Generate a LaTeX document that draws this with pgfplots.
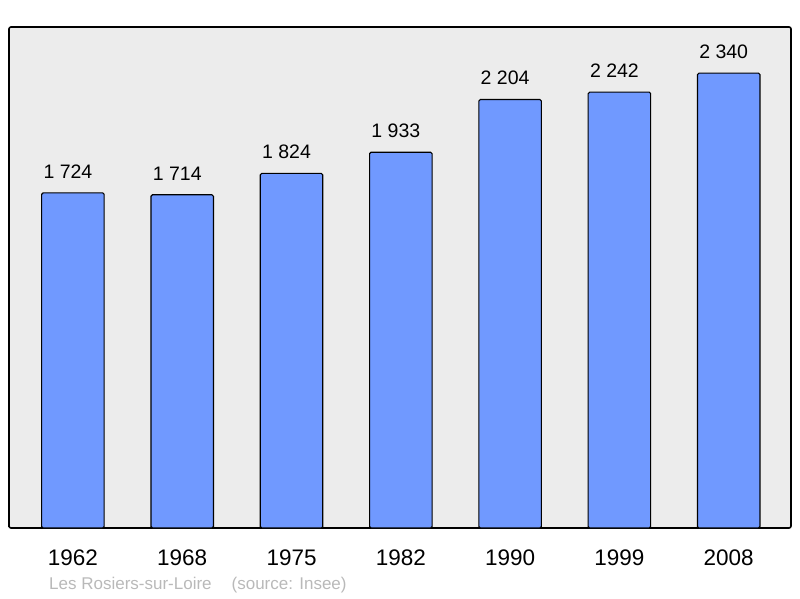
\documentclass[border=0pt]{standalone}
\usepackage{pgfplots}
\pgfplotsset{compat=1.18}
\usepackage{fontspec}
\setmainfont{Liberation Sans}

\definecolor{barBlue}{RGB}{112,153,255}
\definecolor{panelGray}{RGB}{236,236,236}
\definecolor{srcGray}{RGB}{185,185,185}

\begin{document}
\begin{tikzpicture}
\path[use as bounding box] (0,0) rectangle (800pt,598pt);
\begin{axis}[
    at={(9pt,70pt)}, anchor=south west,
    scale only axis,
    width=782pt, height=501pt,
    xmin=-0.585, xmax=6.57,
    ymin=0, ymax=2577,
    axis background/.style={fill=panelGray},
    axis line style={line width=1.6pt, rounded corners=2pt},
    ytick=\empty,
    xtick={0,...,6},
    xticklabels={1962,1968,1975,1982,1990,1999,2008},
    xticklabel style={font=\fontsize{22.5}{24}\selectfont, anchor=base, yshift=-37pt},
    major tick length=0pt,
    /pgf/number format/assume math mode=true,
    nodes near coords={\pgfmathprintnumber[1000 sep={\ }]{\pgfplotspointmeta}},
    nodes near coords style={font=\fontsize{19.5}{21}\selectfont, anchor=base,
        xshift=-5pt, yshift=14.7pt, inner sep=0pt},
]
\addplot[ybar, bar width=62.5pt, fill=barBlue, draw=black, line width=1.1pt, rounded corners=1.5pt]
  coordinates {(0,1724)(1,1714)(2,1824)(3,1933)(4,2204)(5,2242)(6,2340)};
\end{axis}
\node[anchor=base west, text=srcGray, font=\fontsize{17}{19}\selectfont, inner sep=0pt]
  at (49pt,9pt) {Les Rosiers-sur-Loire\hspace{20pt}(source: Insee)};
\end{tikzpicture}
\end{document}
